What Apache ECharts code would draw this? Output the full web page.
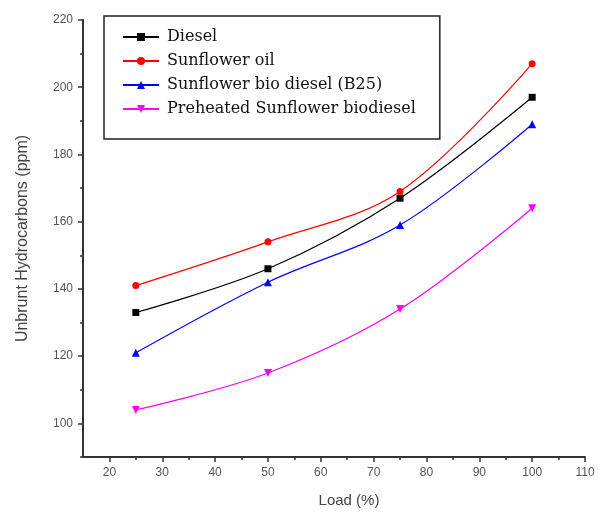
<!DOCTYPE html>
<html><head><meta charset="utf-8">
<script src="https://cdn.jsdelivr.net/npm/echarts@6/dist/echarts.min.js"></script>
<style>html,body{margin:0;padding:0;background:#fff}#c{width:600px;height:518px}</style>
</head><body><div id="c"></div>
<script>
const loads = [25, 50, 75, 100];
const diesel = [133, 146, 167, 197];
const sunflowerOil = [141, 154, 169, 207];
const b25 = [121, 142, 159, 189];
const preheated = [104, 115, 134, 164];
const seriesNames = ['Diesel', 'Sunflower oil', 'Sunflower bio diesel (B25)', 'Preheated Sunflower biodiesel'];
const yMajor = [100, 120, 140, 160, 180, 200, 220];
const yMinor = [90, 110, 130, 150, 170, 190, 210];
const xMajor = [20, 30, 40, 50, 60, 70, 80, 90, 100, 110];
const xMinor = [25, 35, 45, 55, 65, 75, 85, 95, 105];

const pair = arr => loads.map((x, i) => [x, arr[i]]);
const axisCol = '#333';
const chart = echarts.init(document.getElementById('c'));
function mk(name, data, color, symbol, size) {
  return {name, type: 'line', data: pair(data), smooth: 0.35, symbol, symbolSize: size,
    lineStyle: {color, width: 1.2}, itemStyle: {color}, z: 3};
}
chart.setOption({
  animation: false,
  grid: {left: 83, right: 15, top: 20, bottom: 61},
  xAxis: [{
    type: 'value', min: 15, max: 110, position: 'bottom',
    name: 'Load (%)', nameLocation: 'middle', nameGap: 36,
    nameTextStyle: {fontFamily: 'Arial, Liberation Sans', fontSize: 15, color: '#444', padding: [0,0,0,30]},
    axisLine: {lineStyle: {color: axisCol, width: 2}},
    axisTick: {customValues: xMajor, length: 5, inside: false, lineStyle: {color: axisCol, width: 1.5}},
    axisLabel: {customValues: xMajor, fontSize: 12, color: '#555', fontFamily: 'Arial, Liberation Sans', margin: 10},
    splitLine: {show: false}
  }, {
    type: 'value', min: 15, max: 110, position: 'bottom',
    axisLine: {show: false},
    axisTick: {customValues: xMinor, length: 3, lineStyle: {color: axisCol, width: 1.5}},
    axisLabel: {show: false}, splitLine: {show: false}
  }],
  yAxis: [{
    type: 'value', min: 90, max: 220,
    name: 'Unbrunt Hydrocarbons (ppm)', nameLocation: 'middle', nameGap: 52,
    nameTextStyle: {fontFamily: 'Arial, Liberation Sans', fontSize: 16, color: '#444'},
    axisLine: {show: true, lineStyle: {color: axisCol, width: 2}},
    axisTick: {show: true, customValues: yMajor, length: 5, lineStyle: {color: axisCol, width: 1.5}},
    axisLabel: {customValues: yMajor, fontSize: 12, color: '#555', fontFamily: 'Arial, Liberation Sans', margin: 10},
    splitLine: {show: false}
  }, {
    type: 'value', min: 90, max: 220, position: 'left',
    axisLine: {show: false},
    axisTick: {show: true, customValues: yMinor, length: 3, lineStyle: {color: axisCol, width: 1.5}},
    axisLabel: {show: false}, splitLine: {show: false}
  }],
  legend: {
    orient: 'vertical', left: 104, top: 16,
    data: seriesNames,
    itemWidth: 36, itemHeight: 10, itemGap: 8,
    padding: [13, 24, 22, 18],
    borderColor: '#222', borderWidth: 1.5,
    textStyle: {fontFamily: 'DejaVu Serif, Liberation Serif, serif', fontSize: 16, lineHeight: 16, color: '#111', padding: [0, 0, 0, 3]},
    backgroundColor: '#fff'
  },
  series: [
    mk(seriesNames[0], diesel, '#000000', 'rect', 7),
    mk(seriesNames[1], sunflowerOil, '#ff0000', 'circle', 7),
    mk(seriesNames[2], b25, '#0000ff', 'triangle', 8),
    Object.assign(mk(seriesNames[3], preheated, '#ff00ff', 'triangle', 8), {symbolRotate: 180})
  ]
});
</script></body></html>
